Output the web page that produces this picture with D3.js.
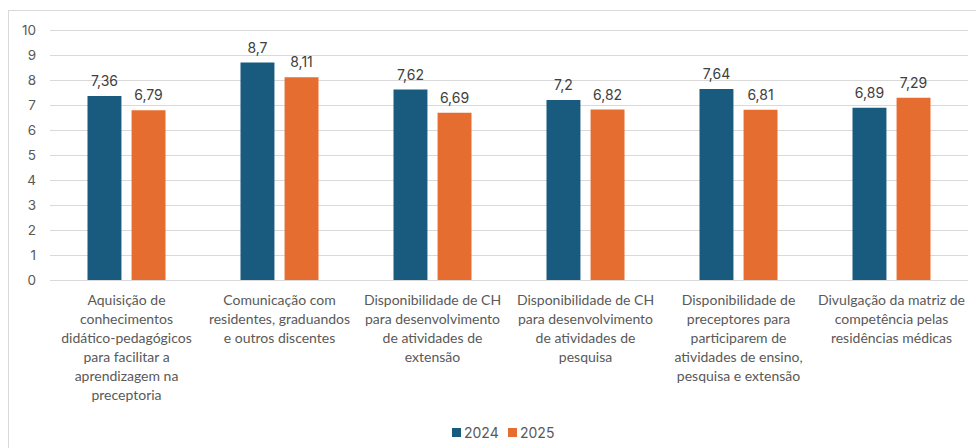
<!DOCTYPE html>
<html>
<head>
<meta charset="utf-8">
<script src="https://cdn.jsdelivr.net/npm/d3@7"></script>
<style>
  body { margin: 0; background: #fff; }
  .tick text { fill: #595959; }
</style>
</head>
<body>
<div id="chart"></div>
<script>
// categories (line breaks as in the picture)
const categories = [
  ["Aquisição de", "conhecimentos", "didático-pedagógicos", "para facilitar a", "aprendizagem na", "preceptoria"],
  ["Comunicação com", "residentes, graduandos", "e outros discentes"],
  ["Disponibilidade de CH", "para desenvolvimento", "de atividades de", "extensão"],
  ["Disponibilidade de CH", "para desenvolvimento", "de atividades de", "pesquisa"],
  ["Disponibilidade de", "preceptores para", "participarem de", "atividades de ensino,", "pesquisa e extensão"],
  ["Divulgação da matriz de", "competência pelas", "residências médicas"]
];
const series = ["2024", "2025"];
const values2024 = [7.36, 8.7, 7.62, 7.2, 7.64, 6.89];
const values2025 = [6.79, 8.11, 6.69, 6.82, 6.81, 7.29];
const yTicks = [0, 1, 2, 3, 4, 5, 6, 7, 8, 9, 10];

const colors = { "2024": "#185b7e", "2025": "#e56d2f" };

const W = 976, H = 448;
const margin = { top: 30, right: 8, bottom: 168, left: 50 };
const width = W - margin.left - margin.right;
const height = H - margin.top - margin.bottom;

const svg = d3.select("#chart").append("svg")
  .attr("width", W)
  .attr("height", H);

// chart border
svg.append("rect")
  .attr("x", 8.5).attr("y", 10.5)
  .attr("width", W + 10).attr("height", H + 10)
  .attr("fill", "none")
  .attr("stroke", "#d9d9d9");

const g = svg.append("g")
  .attr("transform", "translate(" + margin.left + "," + margin.top + ")");

const idx = categories.map((d, i) => i);
const x0 = d3.scaleBand().domain(idx).range([0, width]).paddingInner(0).paddingOuter(0);
const x1 = d3.scaleBand().domain(series).range([x0.bandwidth() / 2 - 39, x0.bandwidth() / 2 + 39]).paddingInner(0.23).paddingOuter(0);
const y = d3.scaleLinear().domain([0, 10]).range([height, 0]);

// gridlines
g.selectAll(".grid")
  .data(yTicks)
  .enter().append("line")
  .attr("x1", 0).attr("x2", width)
  .attr("y1", d => y(d) + 0.5).attr("y2", d => y(d) + 0.5)
  .attr("stroke", "#d9d9d9")
  .attr("stroke-width", 1);

// y axis labels
const yAxis = g.append("g")
  .call(d3.axisLeft(y).tickValues(yTicks).tickSize(0).tickPadding(14));
yAxis.select(".domain").remove();
yAxis.selectAll("text")
  .style("font-family", "Inter, 'Liberation Sans', sans-serif")
  .style("font-size", "13.5px");

const rows = idx.map(i => ({ i: i, v: { "2024": values2024[i], "2025": values2025[i] } }));

const groups = g.selectAll(".grp")
  .data(rows)
  .enter().append("g")
  .attr("transform", d => "translate(" + x0(d.i) + ",0)");

groups.selectAll("rect")
  .data(d => series.map(s => ({ s: s, v: d.v[s] })))
  .enter().append("rect")
  .attr("x", d => x1(d.s))
  .attr("y", d => y(d.v))
  .attr("width", x1.bandwidth())
  .attr("height", d => height - y(d.v))
  .attr("fill", d => colors[d.s]);

groups.selectAll(".val")
  .data(d => series.map(s => ({ s: s, v: d.v[s] })))
  .enter().append("text")
  .attr("x", d => x1(d.s) + x1.bandwidth() / 2)
  .attr("y", d => y(d.v) - 10)
  .attr("text-anchor", "middle")
  .style("font-family", "Inter, 'Liberation Sans', sans-serif")
  .style("font-size", "14px")
  .style("fill", "#404040")
  .text(d => String(d.v).replace(".", ","));

// category labels
groups.append("text")
  .attr("text-anchor", "middle")
  .style("font-family", "Lato, sans-serif")
  .style("font-size", "14px")
  .style("fill", "#595959")
  .selectAll("tspan")
  .data(d => categories[d.i])
  .enter().append("tspan")
  .attr("x", x0.bandwidth() / 2)
  .attr("y", (d, j) => height + 25 + j * 19)
  .text(d => d);

// legend
const legend = svg.append("g")
  .attr("transform", "translate(452,433)");
const li = legend.selectAll("g")
  .data(series)
  .enter().append("g")
  .attr("transform", (d, i) => "translate(" + (i * 56) + ",0)");
li.append("rect")
  .attr("x", 0).attr("y", -5)
  .attr("width", 9).attr("height", 9)
  .attr("fill", d => colors[d]);
li.append("text")
  .attr("x", 12).attr("y", 5)
  .style("font-family", "Inter, 'Liberation Sans', sans-serif")
  .style("font-size", "14px")
  .style("fill", "#595959")
  .text(d => d);
</script>
</body>
</html>
